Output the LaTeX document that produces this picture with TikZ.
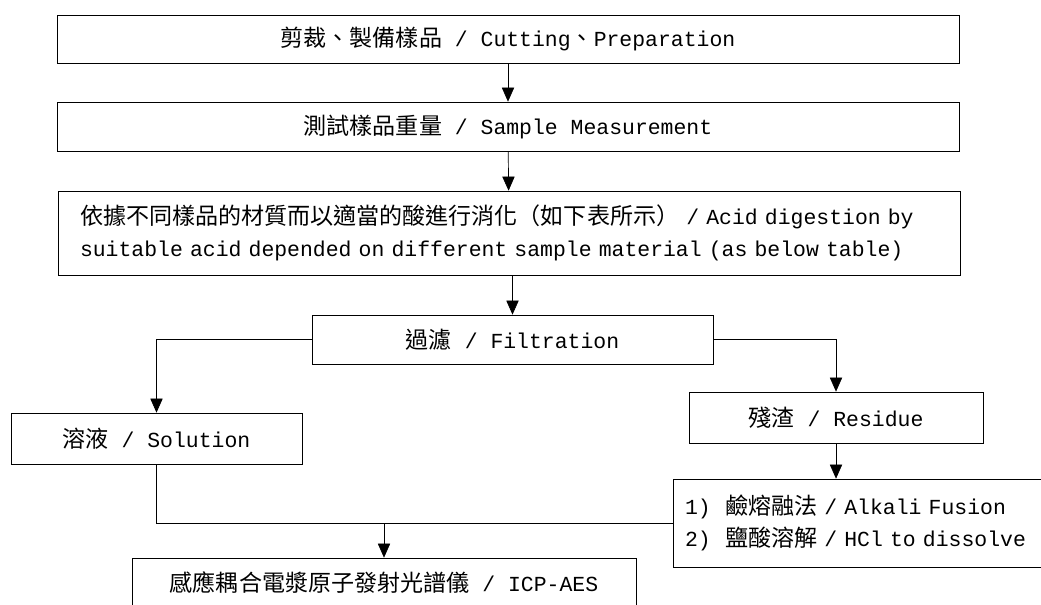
\documentclass[tikz,border=0pt]{standalone}
\usepackage{fontspec}
\setmainfont{Liberation Mono}
\newfontfamily\zhfont[Scale=1.075]{Noto Sans CJK TC}
\usepackage{tikz}
\usetikzlibrary{shapes,arrows.meta}
\usetikzlibrary{positioning}
\tikzset{auto,>={Triangle[length=8pt,width=7pt]}, line width=1pt, font=\fontsize{12.2}{18}\selectfont}
\tikzstyle{block} = [draw, fill=white, rectangle, minimum height=0.98cm, text centered, align=center, inner sep=0pt]
\tikzstyle{listblock} = [draw, fill=white, rectangle, align=left, inner ysep=0pt]
\tikzstyle{input} = [coordinate]
\newcommand{\zhtext}[1]{{\zhfont #1}}

\begin{document}
\begin{tikzpicture}
		\useasboundingbox (0,0) rectangle (20.82,-12.08);
		\node [block, minimum width=18.04cm, minimum height=0.96cm] (cut) at (10.16,-0.78) {\zhtext{剪裁、製備樣品} / Cutting\zhtext{、}Preparation};
		\node [block, minimum width=18.04cm] (measure) at (10.16,-2.53) {\zhtext{測試樣品重量} / Sample Measurement};
		\node [listblock, text width=17.16cm, inner xsep=0.44cm, minimum height=1.68cm] (digest) at (10.18,-4.66) {\mbox{\zhtext{依據不同樣品的材質而以適當的酸進行消化（如下表所示）} / Acid digestion by}\\\mbox{suitable acid depended on different sample material (as below table)}};
		\node [block, minimum width=8.02cm] (filter) at (10.25,-6.79) {\zhtext{過濾} / Filtration};
		\node [block, minimum width=5.82cm, minimum height=1.02cm] (solution) at (3.13,-8.77) {\zhtext{溶液} / Solution};
		\node [block, minimum width=5.88cm, minimum height=1.02cm] (residue) at (16.72,-8.35) {\zhtext{殘渣} / Residue};
		\node [listblock, text width=7.26cm, inner xsep=0.24cm, minimum height=1.76cm] (fusion) at (17.33,-10.46) {\mbox{1)\ \ \zhtext{鹼熔融法} / Alkali Fusion}\\\mbox{2)\ \ \zhtext{鹽酸溶解} / HCl to dissolve}};
		\node [block, minimum width=10.08cm, minimum height=1.0cm] (icp) at (7.68,-11.66) {\zhtext{感應耦合電漿原子發射光譜儀} / ICP-AES};
		\node [input] (merge) at (icp.north |- fusion.west) {};

		\draw [->] (cut) -- (measure);
		\draw [->] (measure) -- (digest);
		\draw [->] (filter.north |- digest.south) -- (filter);
		\draw [->] (filter) -| (solution);
		\draw [->] (filter) -| (residue);
		\draw [->] (residue) -- (residue |- fusion.north);
		\draw (solution) |- (fusion);
		\draw [->] (merge) -- (icp);
	\end{tikzpicture}
\end{document}
